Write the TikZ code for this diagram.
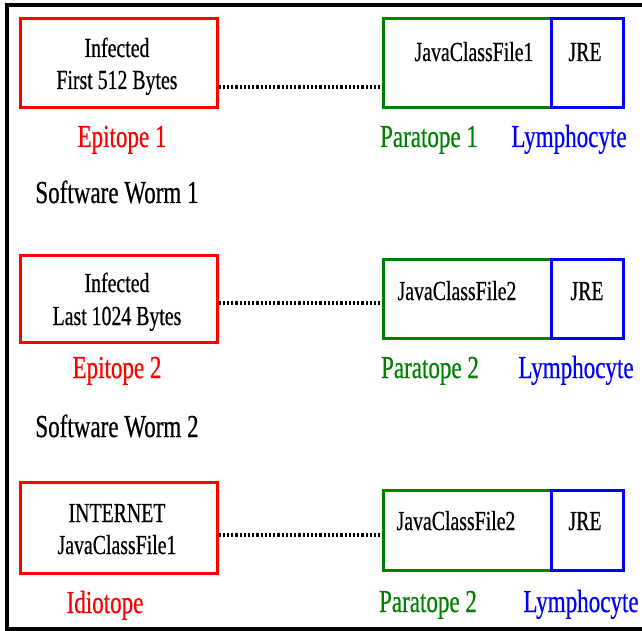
\documentclass[tikz,border=0pt]{standalone}
\usepackage{fontspec}
\setmainfont[FakeStretch=0.72,FakeBold=0.5]{Liberation Serif}
\definecolor{epired}{RGB}{255,0,0}
\definecolor{paragreen}{RGB}{0,128,0}
\definecolor{lymblue}{RGB}{0,0,255}
\begin{document}
\begin{tikzpicture}[x=1pt,y=-1pt,
  frame/.style={draw=black, line width=4pt},
  epibox/.style={draw=epired, line width=3pt, inner sep=0pt, minimum width=197pt},
  parabox/.style={draw=paragreen, line width=3pt, inner sep=0pt, minimum width=168pt},
  lymbox/.style={draw=lymblue, line width=3pt, inner sep=0pt, minimum width=72pt},
  boxtext/.style={anchor=base, inner sep=0pt, font=\fontsize{27.5}{31}\selectfont},
  lbl/.style={anchor=base, inner sep=0pt, font=\fontsize{32}{36}\selectfont},
  link/.style={draw=black, line width=3.5pt, dash pattern=on 2.2pt off 2pt}
]
\useasboundingbox (0,0) rectangle (642,631);
\clip (0,0) rectangle (642,631);
\draw[frame] (6.5,5.5) rectangle (680,628.5);

% ---- row 1 ----
\node[epibox, minimum height=89pt] (r1) at (118.5,63.5) {};
\node[parabox, minimum height=89pt] (g1) at (467,63.5) {};
\node[lymbox, minimum height=89pt] (b1) at (587,63.5) {};
\node[boxtext] (r1a) at (117,57) {Infected};
\node[boxtext] (r1b) at (117,89) {First 512 Bytes};
\node[boxtext] (g1t) at (474,61) {JavaClassFile1};
\node[boxtext] (b1t) at (585,61) {JRE};
\draw[link] ([yshift=-23.5pt]r1.east) -- ([yshift=-23.5pt]r1.east -| g1.west);
\node[lbl, text=epired] (e1) at (122,147) {Epitope 1};
\node[lbl, text=paragreen] (p1) at (429,147) {Paratope 1};
\node[lbl, text=lymblue] (l1) at (569,147) {Lymphocyte};
\node[lbl] (w1) at (117,203) {Software Worm 1};

% ---- row 2 ----
\node[epibox, minimum height=87pt] (r2) at (118.5,298.5) {};
\node[parabox, minimum height=79pt] (g2) at (467,298.5) {};
\node[lymbox, minimum height=79pt] (b2) at (587,298.5) {};
\node[boxtext] (r2a) at (117,292) {Infected};
\node[boxtext] (r2b) at (117,325) {Last 1024 Bytes};
\node[boxtext] (g2t) at (457,300) {JavaClassFile2};
\node[boxtext] (b2t) at (587,300) {JRE};
\draw[link] ([yshift=-4.5pt]r2.east) -- ([yshift=-4.5pt]r2.east -| g2.west);
\node[lbl, text=epired] (e2) at (117,378) {Epitope 2};
\node[lbl, text=paragreen] (p2) at (430,378) {Paratope 2};
\node[lbl, text=lymblue] (l2) at (576,378) {Lymphocyte};
\node[lbl] (w2) at (117,437) {Software Worm 2};

% ---- row 3 ----
\node[epibox, minimum height=91pt] (r3) at (118.5,527.5) {};
\node[parabox, minimum height=80pt] (g3) at (467,530) {};
\node[lymbox, minimum height=80pt] (b3) at (587,530) {};
\node[boxtext] (r3a) at (117,522) {INTERNET};
\node[boxtext] (r3b) at (117,554) {JavaClassFile1};
\node[boxtext] (g3t) at (456,530) {JavaClassFile2};
\node[boxtext] (b3t) at (585,530) {JRE};
\draw[link] ([yshift=-7.5pt]r3.east) -- ([yshift=-7.5pt]r3.east -| g3.west);
\node[lbl, text=epired] (i3) at (105,613) {Idiotope};
\node[lbl, text=paragreen] (p3) at (428,612) {Paratope 2};
\node[lbl, text=lymblue] (l3) at (581,612) {Lymphocyte};
\end{tikzpicture}
\end{document}
